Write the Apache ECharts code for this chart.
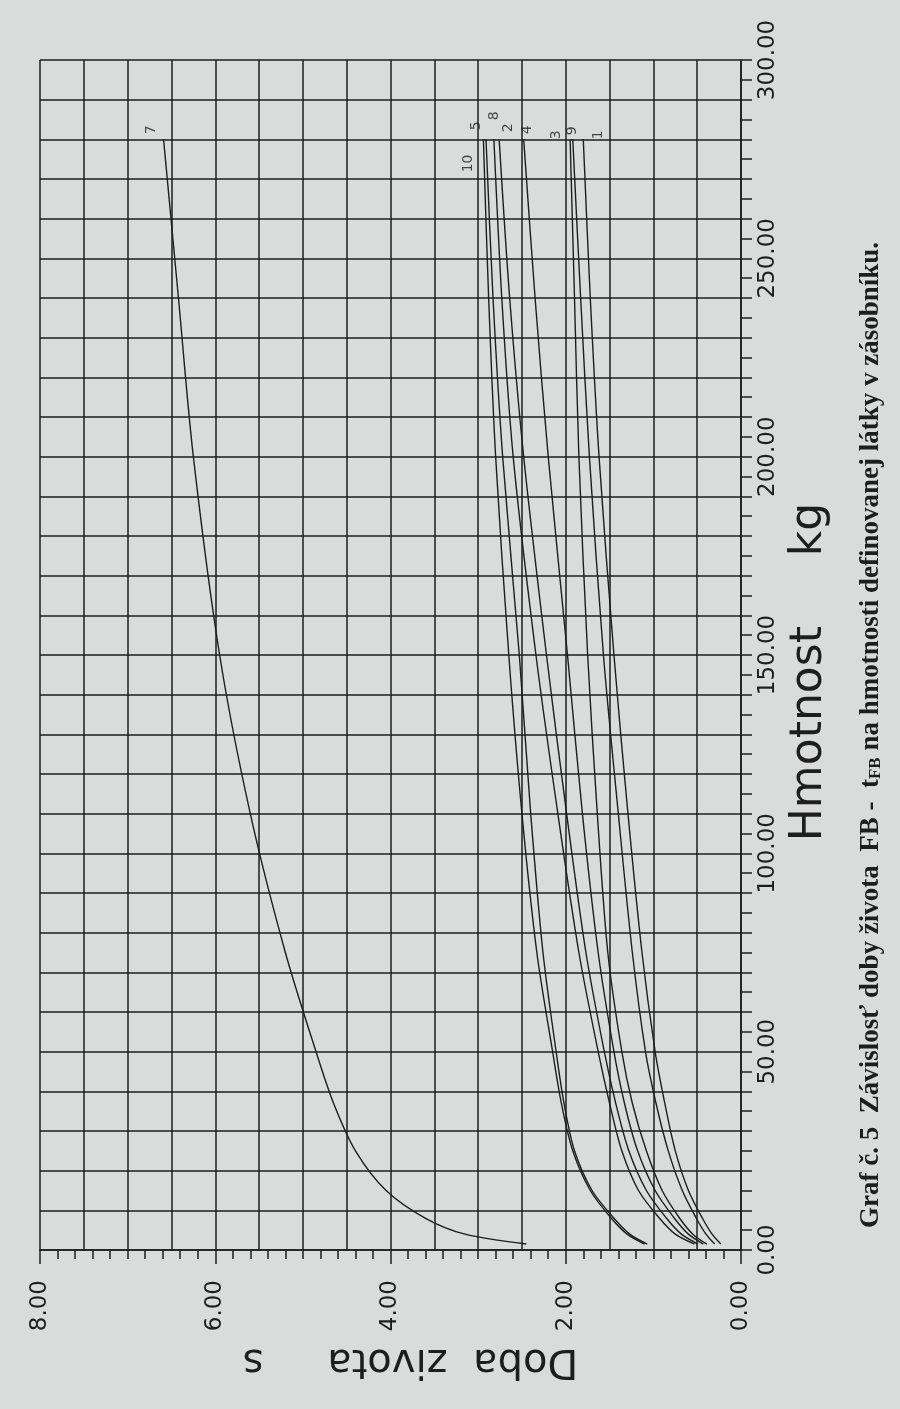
<!DOCTYPE html>
<html>
<head>
<meta charset="utf-8">
<script src="https://cdn.jsdelivr.net/npm/echarts@6/dist/echarts.min.js"></script>
<style>
  html, body { margin: 0; padding: 0; background: #d9dcdb; }
  #chart { width: 900px; height: 1409px; }
</style>
</head>
<body>
<div id="chart"></div>
<script>
// mass in kg (shared by all curves)
var massKg = [1.5, 4, 8, 15, 25, 37, 50, 75, 110, 150, 200, 240, 280];

// lifetime in s for each numbered curve
var life1  = [0.23, 0.33, 0.44, 0.60, 0.75, 0.87, 0.98, 1.13, 1.29, 1.45, 1.62, 1.72, 1.80];
var life2  = [0.49, 0.68, 0.85, 1.08, 1.28, 1.43, 1.56, 1.77, 1.99, 2.22, 2.48, 2.64, 2.76];
var life3  = [0.39, 0.55, 0.70, 0.90, 1.08, 1.24, 1.36, 1.52, 1.64, 1.75, 1.85, 1.90, 1.95];
var life4  = [0.43, 0.60, 0.76, 0.98, 1.18, 1.33, 1.45, 1.63, 1.81, 1.98, 2.20, 2.35, 2.48];
var life5  = [1.07, 1.27, 1.45, 1.70, 1.90, 2.02, 2.11, 2.26, 2.40, 2.53, 2.72, 2.83, 2.91];
var life7  = [2.45, 3.15, 3.60, 4.05, 4.40, 4.65, 4.85, 5.20, 5.60, 5.95, 6.25, 6.42, 6.59];
var life8  = [0.53, 0.75, 0.93, 1.17, 1.36, 1.50, 1.63, 1.85, 2.09, 2.34, 2.60, 2.73, 2.82];
var life9  = [0.30, 0.40, 0.51, 0.67, 0.83, 0.97, 1.09, 1.24, 1.40, 1.57, 1.73, 1.83, 1.92];
var life10 = [1.10, 1.30, 1.48, 1.72, 1.92, 2.05, 2.15, 2.33, 2.50, 2.65, 2.80, 2.88, 2.94];

var curveNames = ['1', '2', '3', '4', '5', '7', '8', '9', '10'];
var curveLife = [life1, life2, life3, life4, life5, life7, life8, life9, life10];

// where each curve number sits next to the end of its line (px)
var labelShift = {
    '1': [15, 0], '2': [9, -7], '3': [-14, 0], '4': [4, -5], '5': [-10, -9],
    '7': [-12, -5], '8': [0, -19], '9': [0, -4], '10': [-15, 33]
};

var ink = '#1e1e1e';
var font = 'DejaVu Sans';

var chart = echarts.init(document.getElementById('chart'));

var lineSeries = curveNames.map(function (name, i) {
    return {
        name: name,
        type: 'line',
        xAxisIndex: 0,
        yAxisIndex: 0,
        showSymbol: false,
        smooth: 0.3,
        silent: true,
        lineStyle: { color: ink, width: 1.4 },
        data: curveLife[i].map(function (t, j) { return [t, massKg[j]]; })
    };
});

var endLabels = {
    type: 'scatter',
    xAxisIndex: 0,
    yAxisIndex: 0,
    symbolSize: 0,
    silent: true,
    label: {
        show: true,
        rotate: 90,
        align: 'left',
        verticalAlign: 'middle',
        fontFamily: font,
        fontSize: 14,
        color: ink,
        formatter: function (p) { return p.data.name; }
    },
    data: curveNames.map(function (name, i) {
        var life = curveLife[i];
        return {
            name: name,
            value: [life[life.length - 1], massKg[massKg.length - 1]],
            label: { position: labelShift[name] }
        };
    })
};

var option = {
    backgroundColor: '#d9dcdb',
    animation: false,
    grid: { left: 40, right: 159, top: 60, bottom: 159 },
    xAxis: [
        {   // grid lines every 0.5 s
            type: 'value', min: 0, max: 8, inverse: true, position: 'bottom', interval: 0.5,
            axisLine: { show: true, onZero: false, lineStyle: { color: ink, width: 1.6 } },
            axisTick: { show: false },
            axisLabel: { show: false },
            splitLine: { show: true, lineStyle: { color: ink, width: 1.5 } }
        },
        {   // small ticks every 0.2 s
            type: 'value', min: 0, max: 8, inverse: true, position: 'bottom', interval: 0.2,
            axisLine: { show: false },
            axisTick: { show: true, length: 9, lineStyle: { color: ink, width: 1.5 } },
            axisLabel: { show: false },
            splitLine: { show: false }
        },
        {   // labelled ticks
            type: 'value', min: 0, max: 8, inverse: true, position: 'bottom', interval: 2,
            axisLine: { show: false },
            axisTick: { show: true, length: 14, lineStyle: { color: ink, width: 1.5 } },
            axisLabel: {
                rotate: 90, margin: 30, fontFamily: font, fontSize: 23, color: ink,
                formatter: function (v) { return v.toFixed(2); }
            },
            splitLine: { show: false },
            name: 'Doba  zivota     s',
            nameLocation: 'middle',
            nameRotate: 180,
            nameGap: 90,
            nameTextStyle: { fontFamily: font, fontSize: 40, color: ink, padding: [0, 40, 0, 0] }
        }
    ],
    yAxis: [
        {
            type: 'value', min: 0, max: 300, interval: 10, position: 'right',
            axisLine: { show: true, onZero: false, lineStyle: { color: ink, width: 1.6 } },
            axisTick: { show: true, length: 11, lineStyle: { color: ink, width: 1.5 } },
            minorTick: { show: true, splitNumber: 2, length: 11, lineStyle: { color: ink, width: 1.5 } },
            axisLabel: {
                rotate: 90, margin: 16, fontFamily: font, fontSize: 23, color: ink,
                formatter: function (v) { return v % 50 === 0 ? v.toFixed(2) : ''; }
            },
            splitLine: { show: true, lineStyle: { color: ink, width: 1.5 } },
            name: 'Hmotnost     kg',
            nameLocation: 'middle',
            nameRotate: 90,
            nameGap: 28,
            nameTextStyle: { fontFamily: font, fontSize: 44, color: ink, padding: [0, 34, 0, 0] }
        }
    ],
    graphic: [
        {
            type: 'text',
            x: 871,
            y: 735,
            rotation: Math.PI / 2,
            style: {
                text: 'Graf č. 5  Závislosť doby života  FB -  t{sub|FB} na hmotnosti definovanej látky v zásobníku.',
                font: 'bold 27px "Liberation Serif"',
                fill: ink,
                align: 'center',
                verticalAlign: 'middle',
                rich: {
                    sub: { font: 'bold 17px "Liberation Serif"', fill: ink, verticalAlign: 'bottom' }
                }
            }
        }
    ],
    series: lineSeries.concat([endLabels])
};

chart.setOption(option);
</script>
</body>
</html>
